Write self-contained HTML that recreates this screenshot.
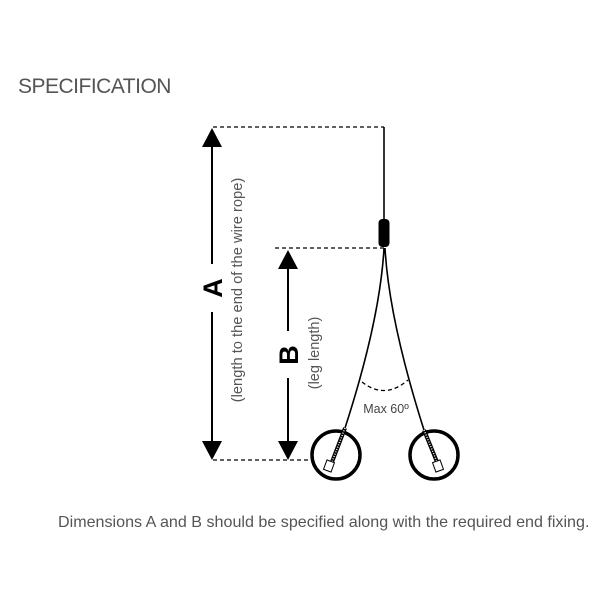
<!DOCTYPE html>
<html><head><style>
body{margin:0;background:#fff;width:600px;height:600px;overflow:hidden}
svg text{font-family:"Liberation Sans",sans-serif}
</style></head><body>
<svg width="600" height="600" viewBox="0 0 600 600" xmlns="http://www.w3.org/2000/svg">
<text x="18" y="93" font-size="21" fill="#555" letter-spacing="-0.5">SPECIFICATION</text>
<g stroke="#000" stroke-width="1.3" stroke-dasharray="4,3" fill="none">
<line x1="213" y1="127" x2="384" y2="127"/>
<line x1="275" y1="248" x2="384" y2="248"/>
<line x1="213" y1="460" x2="308" y2="460"/>
</g>
<line x1="384" y1="127" x2="384" y2="222" stroke="#000" stroke-width="1.6"/>
<rect x="378.5" y="219" width="11" height="28" rx="4" fill="#000"/>
<!-- A arrow -->
<line x1="212" y1="140" x2="212" y2="264" stroke="#000" stroke-width="2"/>
<line x1="212" y1="312" x2="212" y2="448" stroke="#000" stroke-width="2"/>
<polygon points="212,128 202,147 222,147" fill="#000"/>
<polygon points="212,460 202,441 222,441" fill="#000"/>
<text transform="translate(222,288) rotate(-90)" font-size="27" font-weight="bold" text-anchor="middle">A</text>
<text transform="translate(242,290) rotate(-90)" font-size="14.7" fill="#555" text-anchor="middle">(length to the end of the wire rope)</text>
<!-- B arrow -->
<line x1="288" y1="262" x2="288" y2="331" stroke="#000" stroke-width="2"/>
<line x1="288" y1="378" x2="288" y2="448" stroke="#000" stroke-width="2"/>
<polygon points="288,250 278,269 298,269" fill="#000"/>
<polygon points="288,460 278,441 298,441" fill="#000"/>
<text transform="translate(298,355) rotate(-90)" font-size="27" font-weight="bold" text-anchor="middle">B</text>
<text transform="translate(319,353) rotate(-90)" font-size="14.5" fill="#555" text-anchor="middle">(leg length)</text>
<!-- legs -->
<path d="M384,248 Q380,320 345,428" stroke="#000" stroke-width="1.6" fill="none"/>
<path d="M385,248 Q389,320 424,430" stroke="#000" stroke-width="1.6" fill="none"/>
<path d="M362,382 Q385,400 408,380" stroke="#000" stroke-width="1.3" stroke-dasharray="4,3" fill="none"/>
<text x="386" y="413" font-size="12.5" fill="#444" text-anchor="middle">Max 60º</text>
<!-- circles -->
<circle cx="336" cy="455" r="24" fill="none" stroke="#000" stroke-width="3.5"/>
<circle cx="434" cy="455" r="24" fill="none" stroke="#000" stroke-width="3.5"/>
<line x1="345" y1="428" x2="332" y2="462" stroke="#000" stroke-width="4"/>
<line x1="345" y1="428" x2="332" y2="462" stroke="#fff" stroke-width="1.5" stroke-dasharray="1,1.5"/>
<rect x="325" y="461" width="8" height="10" transform="rotate(20 329 466)" fill="#fff" stroke="#000" stroke-width="1"/>
<line x1="424" y1="430" x2="437" y2="462" stroke="#000" stroke-width="4"/>
<line x1="424" y1="430" x2="437" y2="462" stroke="#fff" stroke-width="1.5" stroke-dasharray="1,1.5"/>
<rect x="434" y="461" width="8" height="10" transform="rotate(-20 438 466)" fill="#fff" stroke="#000" stroke-width="1"/>
<text x="58" y="527" font-size="16.1" fill="#555">Dimensions A and B should be specified along with the required end fixing.</text>
</svg>
</body></html>
